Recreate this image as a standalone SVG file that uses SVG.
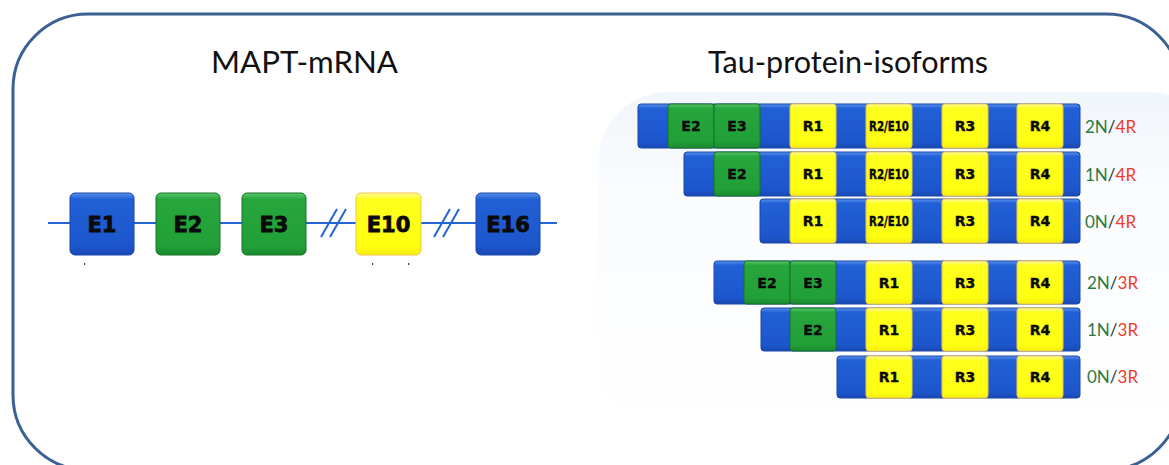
<svg xmlns="http://www.w3.org/2000/svg" width="1169" height="465" viewBox="0 0 1169 465">
<style>
.title{font-family:"Lato","Open Sans","Liberation Sans",sans-serif;font-weight:400;font-size:31px;fill:#111}
.ex{font-family:"DejaVu Sans","Liberation Sans",sans-serif;font-weight:bold;font-size:21px;fill:#0a0a0a;stroke:#0a0a0a;stroke-width:0.8;text-anchor:middle}
.seg{font-family:"DejaVu Sans","Liberation Sans",sans-serif;font-weight:bold;font-size:14px;fill:#0a0a0a;stroke:#0a0a0a;stroke-width:0.4;text-anchor:middle}
.lab{font-family:"Lato","Open Sans","Liberation Sans",sans-serif;font-size:17px}
.n{fill:#2a7a45}.sl{fill:#333}.r{fill:#f03a2a}
.bar{fill:url(#gB);stroke:#1a46a6;stroke-width:1}
.gr{fill:url(#gG);stroke:#16702a;stroke-width:1}
.ye{fill:url(#gY);stroke:#f2c24a;stroke-width:1}
.line{stroke:#2464d6;stroke-width:2;fill:none}
</style>
<defs>
<linearGradient id="gB" x1="0" y1="0" x2="0" y2="1">
<stop offset="0" stop-color="#5a92ee"/><stop offset="0.1" stop-color="#2160d6"/><stop offset="0.85" stop-color="#1c56cc"/><stop offset="1" stop-color="#1849b4"/>
</linearGradient>
<linearGradient id="gG" x1="0" y1="0" x2="0" y2="1">
<stop offset="0" stop-color="#5cc86a"/><stop offset="0.1" stop-color="#26a63c"/><stop offset="0.85" stop-color="#22a038"/><stop offset="1" stop-color="#1b8a2e"/>
</linearGradient>
<linearGradient id="gY" x1="0" y1="0" x2="0" y2="1">
<stop offset="0" stop-color="#fffca0"/><stop offset="0.1" stop-color="#ffff1e"/><stop offset="0.85" stop-color="#ffff10"/><stop offset="1" stop-color="#f4ee10"/>
</linearGradient>
<linearGradient id="glow" x1="0" y1="0" x2="0" y2="1">
<stop offset="0" stop-color="#f1f6fb"/><stop offset="0.3" stop-color="#fafcfe"/><stop offset="1" stop-color="#ffffff"/>
</linearGradient>
</defs>
<rect width="1169" height="465" fill="#ffffff"/>
<rect x="598" y="92" width="620" height="340" rx="70" fill="url(#glow)"/>
<rect x="13" y="14" width="1168" height="456" rx="75" fill="none" stroke="#3b6193" stroke-width="3"/>
<text class="title" x="211" y="73" textLength="187" lengthAdjust="spacingAndGlyphs">MAPT-mRNA</text>
<text class="title" x="708" y="73" textLength="280" lengthAdjust="spacingAndGlyphs">Tau-protein-isoforms</text>

<g id="connectors">
<line class="line" x1="48" y1="223" x2="557" y2="223"/>
<line class="line" x1="321" y1="237" x2="337" y2="209"/>
<line class="line" x1="330" y1="237" x2="346" y2="209"/>
<line class="line" x1="434" y1="237" x2="450" y2="209"/>
<line class="line" x1="443" y1="237" x2="459" y2="209"/>
</g>
<g id="ticks" fill="#444">
<rect x="84" y="263" width="1.2" height="2"/>
<rect x="372" y="263" width="1.2" height="2"/>
<rect x="408" y="263" width="1.2" height="2"/>
</g>

<g id="E1"><rect class="bar" x="70" y="193" width="64" height="62" rx="5"/><text class="ex" x="102" y="232">E1</text></g>
<g id="E2"><rect class="gr" x="156" y="193" width="64" height="62" rx="5"/><text class="ex" x="188" y="232">E2</text></g>
<g id="E3"><rect class="gr" x="242" y="193" width="64" height="62" rx="5"/><text class="ex" x="274" y="232">E3</text></g>
<g id="E10"><rect class="ye" x="356" y="193" width="65" height="62" rx="5"/><text class="ex" x="388.5" y="232">E10</text></g>
<g id="E16"><rect class="bar" x="476" y="193" width="64" height="62" rx="5"/><text class="ex" x="508" y="232">E16</text></g>

<g id="iso-2N4R">
<rect class="bar" x="638" y="104" width="442" height="44" rx="3"/>
<rect class="gr" x="668" y="104" width="46" height="44" rx="3"/><text class="seg" x="691" y="131">E2</text>
<rect class="gr" x="714" y="104" width="46" height="44" rx="3"/><text class="seg" x="737" y="131">E3</text>
<rect class="ye" x="790" y="104" width="46" height="44" rx="3"/><text class="seg" x="813" y="131">R1</text>
<rect class="ye" x="866" y="104" width="46" height="44" rx="3"/><text class="seg" x="889" y="131" font-size="11.5" textLength="40" lengthAdjust="spacingAndGlyphs">R2/E10</text>
<rect class="ye" x="942" y="104" width="46" height="44" rx="3"/><text class="seg" x="965" y="131">R3</text>
<rect class="ye" x="1017" y="104" width="46" height="44" rx="3"/><text class="seg" x="1040" y="131">R4</text>
<text class="lab" x="1085" y="133"><tspan class="n">2N</tspan><tspan class="sl">/</tspan><tspan class="r">4R</tspan></text>
</g>

<g id="iso-1N4R">
<rect class="bar" x="684" y="152" width="396" height="44" rx="3"/>
<rect class="gr" x="714" y="152" width="46" height="44" rx="3"/><text class="seg" x="737" y="179">E2</text>
<rect class="ye" x="790" y="152" width="46" height="44" rx="3"/><text class="seg" x="813" y="179">R1</text>
<rect class="ye" x="866" y="152" width="46" height="44" rx="3"/><text class="seg" x="889" y="179" font-size="11.5" textLength="40" lengthAdjust="spacingAndGlyphs">R2/E10</text>
<rect class="ye" x="942" y="152" width="46" height="44" rx="3"/><text class="seg" x="965" y="179">R3</text>
<rect class="ye" x="1017" y="152" width="46" height="44" rx="3"/><text class="seg" x="1040" y="179">R4</text>
<text class="lab" x="1085" y="181"><tspan class="n">1N</tspan><tspan class="sl">/</tspan><tspan class="r">4R</tspan></text>
</g>

<g id="iso-0N4R">
<rect class="bar" x="760" y="199" width="320" height="44" rx="3"/>
<rect class="ye" x="790" y="199" width="46" height="44" rx="3"/><text class="seg" x="813" y="226">R1</text>
<rect class="ye" x="866" y="199" width="46" height="44" rx="3"/><text class="seg" x="889" y="226" font-size="11.5" textLength="40" lengthAdjust="spacingAndGlyphs">R2/E10</text>
<rect class="ye" x="942" y="199" width="46" height="44" rx="3"/><text class="seg" x="965" y="226">R3</text>
<rect class="ye" x="1017" y="199" width="46" height="44" rx="3"/><text class="seg" x="1040" y="226">R4</text>
<text class="lab" x="1085" y="228"><tspan class="n">0N</tspan><tspan class="sl">/</tspan><tspan class="r">4R</tspan></text>
</g>

<g id="iso-2N3R">
<rect class="bar" x="714" y="261" width="366" height="43" rx="3"/>
<rect class="gr" x="744" y="261" width="46" height="43" rx="3"/><text class="seg" x="767" y="288">E2</text>
<rect class="gr" x="790" y="261" width="46" height="43" rx="3"/><text class="seg" x="813" y="288">E3</text>
<rect class="ye" x="866" y="261" width="46" height="43" rx="3"/><text class="seg" x="889" y="288">R1</text>
<rect class="ye" x="942" y="261" width="46" height="43" rx="3"/><text class="seg" x="965" y="288">R3</text>
<rect class="ye" x="1017" y="261" width="46" height="43" rx="3"/><text class="seg" x="1040" y="288">R4</text>
<text class="lab" x="1087" y="289"><tspan class="n">2N</tspan><tspan class="sl">/</tspan><tspan class="r">3R</tspan></text>
</g>

<g id="iso-1N3R">
<rect class="bar" x="761" y="308" width="319" height="43" rx="3"/>
<rect class="gr" x="790" y="308" width="46" height="43" rx="3"/><text class="seg" x="813" y="335">E2</text>
<rect class="ye" x="866" y="308" width="46" height="43" rx="3"/><text class="seg" x="889" y="335">R1</text>
<rect class="ye" x="942" y="308" width="46" height="43" rx="3"/><text class="seg" x="965" y="335">R3</text>
<rect class="ye" x="1017" y="308" width="46" height="43" rx="3"/><text class="seg" x="1040" y="335">R4</text>
<text class="lab" x="1087" y="336"><tspan class="n">1N</tspan><tspan class="sl">/</tspan><tspan class="r">3R</tspan></text>
</g>

<g id="iso-0N3R">
<rect class="bar" x="837" y="356" width="243" height="42" rx="3"/>
<rect class="ye" x="866" y="356" width="46" height="42" rx="3"/><text class="seg" x="889" y="382">R1</text>
<rect class="ye" x="942" y="356" width="46" height="42" rx="3"/><text class="seg" x="965" y="382">R3</text>
<rect class="ye" x="1017" y="356" width="46" height="42" rx="3"/><text class="seg" x="1040" y="382">R4</text>
<text class="lab" x="1087" y="383"><tspan class="n">0N</tspan><tspan class="sl">/</tspan><tspan class="r">3R</tspan></text>
</g>
</svg>
